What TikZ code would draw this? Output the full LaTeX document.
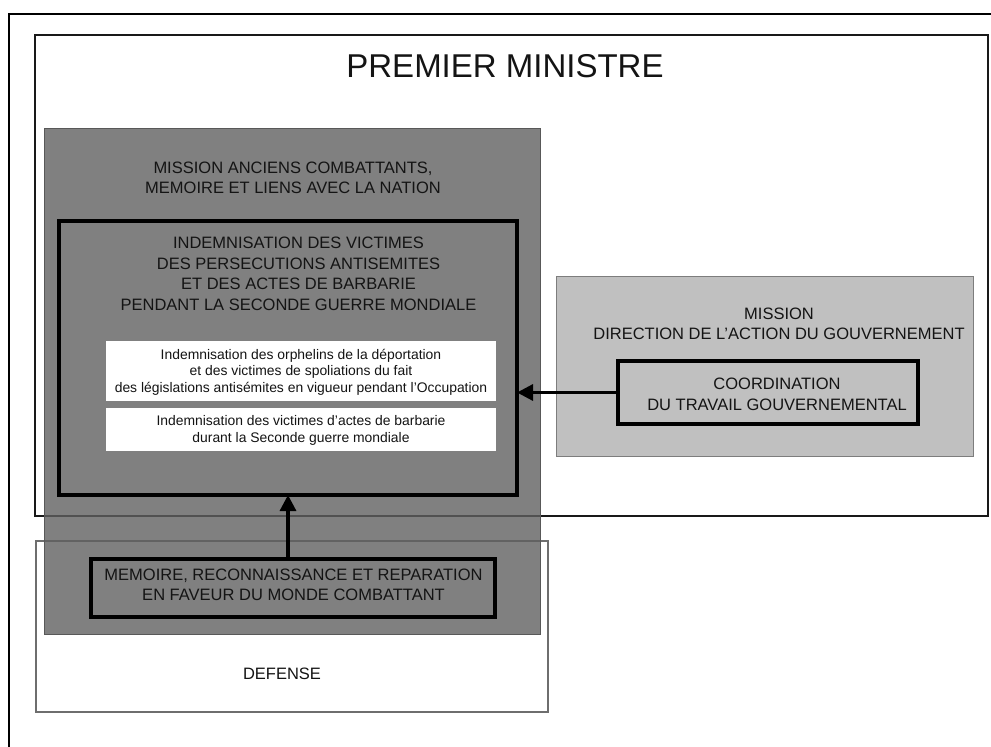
\documentclass[tikz,border=0pt]{standalone}
\usepackage{fontspec}
\setmainfont{Liberation Sans}
\usetikzlibrary{arrows.meta}
\definecolor{darkfill}{RGB}{96,96,96}
\definecolor{lightfill}{RGB}{192,192,192}
\definecolor{edgegray}{RGB}{110,110,110}
\definecolor{ink}{RGB}{20,20,20}
\tikzset{
  box/.style={rectangle, inner sep=0pt, outer sep=0pt},
  thickbox/.style={box, draw=black, line width=3.6pt},
  whitebox/.style={box, fill=white},
  title/.style={font=\fontsize{16.5}{20.5}\selectfont, align=center, inner sep=0pt, text=ink},
  small/.style={font=\fontsize{13.9}{16.6}\selectfont, align=center, inner sep=0pt, text=ink},
  arr/.style={line width=3.2pt, -{Triangle[length=16pt,width=16pt]}}
}
\begin{document}
\begin{tikzpicture}[x=1pt,y=-1pt]
\useasboundingbox (0,0) rectangle (991,747);
% outer frame (only top and left visible)
\coordinate (fbl) at (9,747);
\coordinate (ftl) at (9,14);
\coordinate (ftr) at (991,14);
\draw[line width=2.2pt] (fbl) -- (ftl) -- (ftr);
% Premier ministre
\node[box, draw=black!90, line width=2.2pt, minimum width=953pt, minimum height=481pt] (pm) at (511.5,275.5) {};
% Defense
\node[box, draw=edgegray, line width=1.1pt, minimum width=512pt, minimum height=171pt] (def) at (292,626.5) {};
% Mission anciens combattants (dark, slightly transparent)
\node[box, fill=darkfill, fill opacity=0.8, draw=edgegray!80!black, line width=1pt, minimum width=496pt, minimum height=506pt] (dark) at (292,381) {};
% Mission direction
\node[box, fill=lightfill, draw=edgegray!90, line width=1pt, minimum width=417pt, minimum height=180pt] (light) at (764.5,366) {};
% inner thick box
\node[thickbox, minimum width=458pt, minimum height=274pt] (inner) at (288,358) {};
% white boxes
\node[whitebox, minimum width=390pt, minimum height=60pt] (w1) at (301,371) {};
\node[whitebox, minimum width=390pt, minimum height=43pt] (w2) at (301,429.5) {};
% coordination
\node[thickbox, minimum width=300pt, minimum height=63pt] (coord) at (768,392.5) {};
% memoire
\node[thickbox, minimum width=404pt, minimum height=58pt] (mem) at (293,588) {};
% texts
\node[font=\fontsize{33}{38}\selectfont, inner sep=0pt, text=ink] (tpm) at (505,66.5) {PREMIER MINISTRE};
\node[title] (tdark) at (293,178) {MISSION ANCIENS COMBATTANTS,\\MEMOIRE ET LIENS AVEC LA NATION};
\node[title] (tinner) at (298.5,274) {INDEMNISATION DES VICTIMES\\DES PERSECUTIONS ANTISEMITES\\ET DES ACTES DE BARBARIE\\PENDANT LA SECONDE GUERRE MONDIALE};
\node[small] (tw1) at (301,372) {Indemnisation des orphelins de la déportation\\et des victimes de spoliations du fait\\des législations antisémites en vigueur pendant l’Occupation};
\node[small] (tw2) at (301,430.5) {Indemnisation des victimes d’actes de barbarie\\durant la Seconde guerre mondiale};
\node[title] (tlight) at (779,324) {MISSION\\DIRECTION DE L’ACTION DU GOUVERNEMENT};
\node[title] (tcoord) at (777,394.5) {COORDINATION\\DU TRAVAIL GOUVERNEMENTAL};
\node[title] (tmem) at (293.5,585) {MEMOIRE, RECONNAISSANCE ET REPARATION\\EN FAVEUR DU MONDE COMBATTANT};
\node[title] (tdef) at (282,673.5) {DEFENSE};
% arrows
\draw[arr] (coord.west) -- (coord.west -| inner.east);
\draw[arr] (mem.north -| inner.south) -- (inner.south);
\end{tikzpicture}
\end{document}
